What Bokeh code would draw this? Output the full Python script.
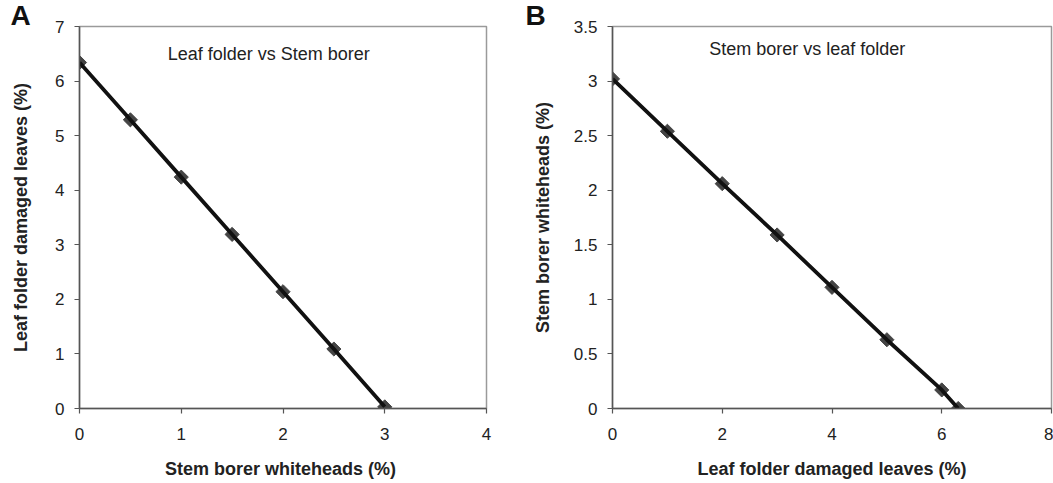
from bokeh.plotting import figure
from bokeh.layouts import row
from bokeh.models import FixedTicker, Label, Range1d, Title
from bokeh.embed import file_html
from bokeh.resources import INLINE
import math

# Panel A data
a_x = [0, 0.5, 1, 1.5, 2, 2.5, 3]
a_y = [6.34, 5.29, 4.24, 3.19, 2.14, 1.09, 0.03]
a_xticks = [0, 1, 2, 3, 4]
a_yticks = [0, 1, 2, 3, 4, 5, 6, 7]
a_xlabels = ["0", "1", "2", "3", "4"]
a_ylabels = ["0", "1", "2", "3", "4", "5", "6", "7"]

# Panel B data
b_x = [0, 1, 2, 3, 4, 5, 6, 6.3]
b_y = [3.02, 2.54, 2.06, 1.59, 1.11, 0.63, 0.17, 0.0]
b_xticks = [0, 2, 4, 6, 8]
b_yticks = [0, 0.5, 1, 1.5, 2, 2.5, 3, 3.5]
b_xlabels = ["0", "2", "4", "6", "8"]
b_ylabels = ["0", "0.5", "1", "1.5", "2", "2.5", "3", "3.5"]

FONT = "Liberation Sans"


def make_panel(xs, ys, xr, yr, xt, yt, xl, yl, xlabel, ylabel, note, note_xy,
               letter, letter_offset, width, height, bl, br, ylab_standoff):
    p = figure(width=width, height=height, output_backend="svg", toolbar_location=None,
               x_range=Range1d(*xr), y_range=Range1d(*yr),
               min_border_left=bl, min_border_right=br, min_border_top=26,
               min_border_bottom=75)
    p.title.visible = False
    p.xgrid.visible = False
    p.ygrid.visible = False
    p.outline_line_color = "#9a9a9a"
    p.outline_line_width = 1.5
    p.background_fill_color = "white"
    p.border_fill_color = "white"
    for ax, ticks, labels in ((p.xaxis[0], xt, xl), (p.yaxis[0], yt, yl)):
        ax.ticker = FixedTicker(ticks=ticks)
        ax.major_label_overrides = {t: s for t, s in zip(ticks, labels)}
        ax.minor_tick_line_color = None
        ax.major_tick_in = 0
        ax.major_tick_out = 5
        ax.axis_line_color = "#555555"
        ax.axis_line_width = 1.5
        ax.major_tick_line_color = "#555555"
        ax.major_tick_line_width = 1.2
        ax.major_label_text_font = FONT
        ax.major_label_text_font_size = "17px"
        ax.major_label_text_color = "#222222"
        ax.axis_label_text_font = FONT
        ax.axis_label_text_font_size = "18px"
        ax.axis_label_text_font_style = "bold"
        ax.axis_label_text_color = "#222222"
    p.xaxis[0].axis_label = xlabel
    p.yaxis[0].axis_label = ylabel
    p.xaxis[0].major_label_standoff = 14
    p.xaxis[0].axis_label_standoff = 16
    p.yaxis[0].major_label_standoff = 10
    p.yaxis[0].axis_label_standoff = ylab_standoff

    p.scatter(xs, ys, marker="square", size=10, angle=math.pi / 4,
              fill_color="#444444", line_color="#444444")
    p.line(xs, ys, line_color="#111111", line_width=3.8)

    p.add_layout(Label(x=note_xy[0], y=note_xy[1], text=note, text_font=FONT,
                       text_font_size="18px", text_color="#222222",
                       text_align="center", text_baseline="middle"))
    p.add_layout(Title(text=letter, align="left", offset=letter_offset, standoff=-8,
                       text_font=FONT, text_font_size="28px", text_font_style="bold",
                       text_color="#111111", text_line_height=1.0), "above")
    return p


pa = make_panel(a_x, a_y, (0, 4), (0, 7), a_xticks, a_yticks, a_xlabels, a_ylabels,
                "Stem borer  whiteheads (%)", "Leaf folder damaged leaves (%)",
                "Leaf folder vs Stem borer", (1.86, 6.5), "A", -69,
                525, 483, 79, 39, 21)
pb = make_panel(b_x, b_y, (0, 8), (0, 3.5), b_xticks, b_yticks, b_xlabels, b_ylabels,
                "Leaf folder damaged leaves (%)", "Stem borer whiteheads (%)",
                "Stem borer vs leaf folder", (3.55, 3.29), "B", -87,
                528, 483, 87, 2, 18)

layout = row(pa, pb)
open("out.html", "w").write(file_html(layout, INLINE))
